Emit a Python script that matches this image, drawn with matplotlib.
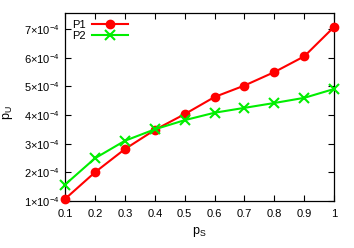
import matplotlib

matplotlib.use("Agg")
import matplotlib.pyplot as plt
from matplotlib.ticker import FixedLocator, FuncFormatter

p_s = [0.1, 0.2, 0.3, 0.4, 0.5, 0.6, 0.7, 0.8, 0.9, 1.0]
# p_U in units of 1e-4
p1 = [1.07, 2.0, 2.81, 3.48, 4.03, 4.63, 5.03, 5.5, 6.05, 7.08]
p2 = [1.57, 2.49, 3.1, 3.5, 3.82, 4.08, 4.25, 4.42, 4.6, 4.91]

plt.rcParams["font.family"] = ["Liberation Sans", "DejaVu Sans"]
plt.rcParams["font.size"] = 8
plt.rcParams["mathtext.default"] = "regular"

fig = plt.figure(figsize=(3.54, 2.48), dpi=100)
ax = fig.add_axes([0.184, 0.19, 0.76, 0.756])

ax.plot(p_s, p1, color="#ff0000", lw=1.5, marker="o", ms=6, label="P1",
        clip_on=False, zorder=3)
ax.plot(p_s, p2, color="#00ee00", lw=1.5, marker="x", ms=7, mew=1.5,
        label="P2", clip_on=False, zorder=3)

ax.set_xlim(0.1, 1.0)
ax.set_ylim(1.0, 7.55)
ax.xaxis.set_major_locator(FixedLocator(p_s))
ax.xaxis.set_major_formatter(FuncFormatter(lambda v, _: f"{v:g}"))
ax.yaxis.set_major_locator(FixedLocator([1, 2, 3, 4, 5, 6, 7]))
ax.yaxis.set_major_formatter(
    FuncFormatter(lambda v, _: f"{int(round(v))}$\\times$10$^{{-4}}$"))
ax.tick_params(direction="in", top=True, right=True, length=4, width=0.8,
               labelsize=8)
ax.tick_params(axis="x", pad=6)
ax.tick_params(axis="y", pad=4)
for s in ax.spines.values():
    s.set_linewidth(0.9)

ax.set_xlabel("p$_{S}$", fontsize=9, labelpad=4)
ax.set_ylabel("p$_{U}$", fontsize=9)
ax.yaxis.set_label_coords(-0.185, 0.47)

ax.legend(loc="upper left", frameon=False, markerfirst=False,
          handlelength=3.2, borderaxespad=0.2, labelspacing=0.1,
          handletextpad=0.6, fontsize=8)

fig.savefig("out.png", dpi=100)
